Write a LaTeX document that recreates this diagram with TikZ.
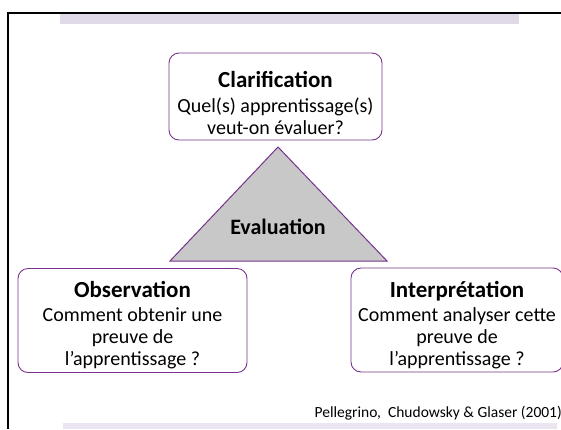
\documentclass[tikz,border=0pt]{standalone}
\usepackage{fontspec}
\setmainfont{Carlito}
\definecolor{frameviolet}{RGB}{120,50,140}
\definecolor{bandlilac}{RGB}{224,217,232}
\definecolor{bandlight}{RGB}{234,229,240}
\definecolor{trigray}{RGB}{200,200,200}
\newcommand{\poletitle}[1]{{\fontsize{23}{22}\selectfont\bfseries #1}}
\begin{document}
\begin{tikzpicture}[x=1pt,y=-1pt,
    pole/.style={draw=frameviolet,line width=0.9pt,rounded corners=10pt,
      minimum height=104pt},
    poletext/.style={align=center,font=\fontsize{20}{22}\selectfont}]
  \useasboundingbox (0,0) rectangle (561,429);
  % slide decoration
  \fill[bandlilac] (60,13) rectangle (519,24);
  \fill[bandlight] (63,423) rectangle (557,429);
  \draw[line width=2pt] (8,429) -- (8,13) -- (561,13);
  % triangle
  \coordinate (apex) at (278,147);
  \coordinate (baseL) at (170,261);
  \coordinate (baseR) at (387,261);
  \draw[frameviolet,fill=trigray,line width=1pt] (apex) -- (baseL) -- (baseR) -- cycle;
  \node[font=\fontsize{22}{22}\selectfont\bfseries] (eval) at (278,227) {Evaluation};
  % the three poles
  \node[pole,minimum width=213pt,minimum height=87pt] (clar) at (275.5,96.5) {};
  \node[pole,minimum width=229pt] (obs) at (132.5,320.5) {};
  \node[pole,minimum width=212pt] (interp) at (457,320) {};
  \node[poletext] (clartxt) at (275.5,102.5)
    {\poletitle{Clarification}\\[3pt]Quel(s) apprentissage(s)\\veut-on évaluer?};
  \node[poletext] (obstxt) at (132.5,325)
    {\poletitle{Observation}\\[2pt]Comment obtenir une\\preuve de\\l’apprentissage ?};
  \node[poletext] (interptxt) at (457,325)
    {\poletitle{Interprétation}\\[2pt]Comment analyser cette\\preuve de\\l’apprentissage ?};
  \node[font=\fontsize{15.5}{17}\selectfont,anchor=east,inner xsep=0pt] (cite) at (562,413)
    {Pellegrino,~ Chudowsky \& Glaser (2001)};
\end{tikzpicture}
\end{document}
